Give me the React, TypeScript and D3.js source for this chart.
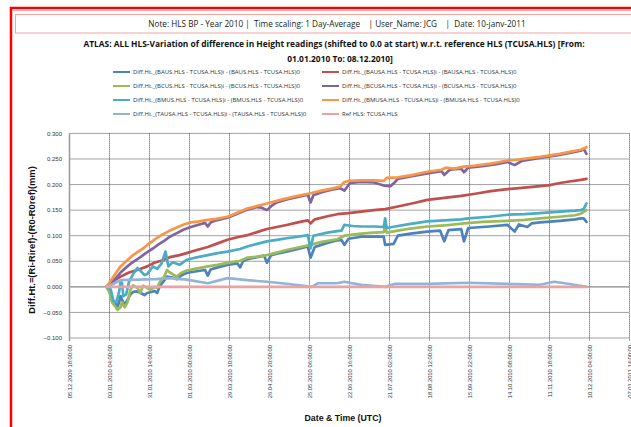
import React from "react";
import * as d3 from "d3";

const NOTE = "Note: HLS BP - Year 2010 |  Time scaling: 1 Day-Average    | User_Name: JCG    |  Date: 10-janv-2011";
const TITLE1 = "ATLAS: ALL HLS-Variation of difference in Height readings (shifted to 0.0 at start) w.r.t. reference HLS (TCUSA.HLS) [From:";
const TITLE2 = "01.01.2010 To: 08.12.2010]";
const X_TITLE = "Date & Time (UTC)";
const Y_TITLE = "Diff.Ht.=(Ri-Riref)-(R0-R0ref)(mm)";

const xTickLabels = [
  "05.12.2009 18:00:00", "03.01.2010 04:00:00", "31.01.2010 14:00:00", "01.03.2010 00:00:00",
  "29.03.2010 10:00:00", "26.04.2010 20:00:00", "25.05.2010 06:00:00", "22.06.2010 16:00:00",
  "21.07.2010 02:00:00", "18.08.2010 12:00:00", "15.09.2010 22:00:00", "14.10.2010 08:00:00",
  "11.11.2010 18:00:00", "10.12.2010 04:00:00", "07.01.2011 14:00:00",
];
const yTicks = [-0.1, -0.05, 0, 0.05, 0.1, 0.15, 0.2, 0.25, 0.3];

const seriesNames = [
  "Diff.Ht._(BAUS.HLS - TCUSA.HLS)i - (BAUS.HLS - TCUSA.HLS)0",
  "Diff.Ht._(BAUSA.HLS - TCUSA.HLS)i - (BAUSA.HLS - TCUSA.HLS)0",
  "Diff.Ht._(BCUS.HLS - TCUSA.HLS)i - (BCUS.HLS - TCUSA.HLS)0",
  "Diff.Ht._(BCUSA.HLS - TCUSA.HLS)i - (BCUSA.HLS - TCUSA.HLS)0",
  "Diff.Ht._(BMUS.HLS - TCUSA.HLS)i - (BMUS.HLS - TCUSA.HLS)0",
  "Diff.Ht._(BMUSA.HLS - TCUSA.HLS)i - (BMUSA.HLS - TCUSA.HLS)0",
  "Diff.Ht._(TAUSA.HLS - TCUSA.HLS)i - (TAUSA.HLS - TCUSA.HLS)0",
  "Ref HLS: TCUSA.HLS",
];
const seriesColors = ["#4F81BD", "#C0504D", "#9BBB59", "#8064A2", "#4BACC6", "#F79646", "#95B3D7", "#E9A3A3"];

type P = [string, number];

const baus: P[] = [
  ["2010-01-01", 0], ["2010-01-03", -0.008], ["2010-01-05", -0.025], ["2010-01-07", -0.03], ["2010-01-09", -0.038],
  ["2010-01-10", -0.03], ["2010-01-11", -0.018], ["2010-01-12", -0.025], ["2010-01-14", -0.035], ["2010-01-16", -0.025],
  ["2010-01-18", -0.015], ["2010-01-20", -0.01], ["2010-01-23", -0.009], ["2010-01-26", -0.013], ["2010-01-28", -0.016],
  ["2010-01-30", -0.012], ["2010-02-02", -0.01], ["2010-02-04", -0.008], ["2010-02-06", -0.012], ["2010-02-08", 0.002],
  ["2010-02-11", 0.012], ["2010-02-13", 0.02], ["2010-02-17", 0.018], ["2010-02-20", 0.015], ["2010-02-23", 0.022],
  ["2010-02-27", 0.027], ["2010-03-05", 0.03], ["2010-03-12", 0.033], ["2010-03-14", 0.022], ["2010-03-16", 0.034],
  ["2010-03-21", 0.038], ["2010-03-28", 0.043], ["2010-04-04", 0.046], ["2010-04-06", 0.038], ["2010-04-08", 0.05],
  ["2010-04-11", 0.054], ["2010-04-18", 0.058], ["2010-04-23", 0.061], ["2010-04-25", 0.047], ["2010-04-28", 0.062],
  ["2010-05-02", 0.065], ["2010-05-09", 0.069], ["2010-05-17", 0.074], ["2010-05-24", 0.079], ["2010-05-26", 0.057],
  ["2010-05-29", 0.078], ["2010-06-07", 0.086], ["2010-06-14", 0.091], ["2010-06-17", 0.092], ["2010-06-19", 0.082],
  ["2010-06-22", 0.094], ["2010-07-01", 0.098], ["2010-07-10", 0.098], ["2010-07-17", 0.098], ["2010-07-18", 0.082],
  ["2010-07-24", 0.084], ["2010-07-27", 0.1], ["2010-08-05", 0.104], ["2010-08-17", 0.108], ["2010-08-26", 0.11],
  ["2010-08-29", 0.089], ["2010-09-01", 0.111], ["2010-09-10", 0.113], ["2010-09-12", 0.089], ["2010-09-15", 0.115],
  ["2010-09-30", 0.118], ["2010-10-13", 0.121], ["2010-10-18", 0.108], ["2010-10-21", 0.122], ["2010-10-27", 0.117],
  ["2010-10-30", 0.124], ["2010-11-05", 0.126], ["2010-11-19", 0.129], ["2010-11-30", 0.132], ["2010-12-04", 0.134],
  ["2010-12-06", 0.134], ["2010-12-08", 0.127],
];

const bausa: P[] = [
  ["2010-01-01", 0], ["2010-01-05", 0.01], ["2010-01-11", 0.02], ["2010-01-17", 0.028], ["2010-01-23", 0.033],
  ["2010-01-30", 0.04], ["2010-02-04", 0.047], ["2010-02-10", 0.052], ["2010-02-15", 0.058], ["2010-02-22", 0.062],
  ["2010-02-27", 0.066], ["2010-03-05", 0.071], ["2010-03-14", 0.078], ["2010-03-21", 0.085], ["2010-03-28", 0.092],
  ["2010-04-04", 0.097], ["2010-04-11", 0.101], ["2010-04-18", 0.107], ["2010-04-25", 0.113], ["2010-05-02", 0.117],
  ["2010-05-09", 0.121], ["2010-05-17", 0.126], ["2010-05-24", 0.13], ["2010-05-26", 0.124], ["2010-05-29", 0.132],
  ["2010-06-07", 0.138], ["2010-06-14", 0.142], ["2010-06-22", 0.144], ["2010-07-01", 0.147], ["2010-07-10", 0.15],
  ["2010-07-18", 0.152], ["2010-07-27", 0.157], ["2010-08-06", 0.163], ["2010-08-17", 0.17], ["2010-08-29", 0.174],
  ["2010-09-10", 0.178], ["2010-09-20", 0.182], ["2010-10-01", 0.187], ["2010-10-13", 0.191], ["2010-10-25", 0.194],
  ["2010-11-05", 0.197], ["2010-11-12", 0.199], ["2010-11-19", 0.203], ["2010-11-26", 0.206], ["2010-12-04", 0.209],
  ["2010-12-08", 0.211],
];

const bcus: P[] = [
  ["2010-01-01", 0], ["2010-01-03", -0.01], ["2010-01-05", -0.03], ["2010-01-07", -0.038], ["2010-01-09", -0.045],
  ["2010-01-11", -0.04], ["2010-01-12", -0.03], ["2010-01-14", -0.04], ["2010-01-16", -0.03], ["2010-01-18", -0.006],
  ["2010-01-20", 0.003], ["2010-01-23", -0.002], ["2010-01-25", -0.012], ["2010-01-27", 0.002], ["2010-01-30", -0.002],
  ["2010-02-01", -0.006], ["2010-02-04", 0], ["2010-02-06", -0.002], ["2010-02-08", 0.01], ["2010-02-11", 0.02],
  ["2010-02-13", 0.033], ["2010-02-15", 0.028], ["2010-02-20", 0.02], ["2010-02-23", 0.027], ["2010-02-27", 0.032],
  ["2010-03-05", 0.035], ["2010-03-14", 0.04], ["2010-03-21", 0.043], ["2010-03-28", 0.047], ["2010-04-06", 0.051],
  ["2010-04-11", 0.057], ["2010-04-18", 0.059], ["2010-04-25", 0.062], ["2010-05-02", 0.067], ["2010-05-09", 0.072],
  ["2010-05-17", 0.077], ["2010-05-26", 0.082], ["2010-06-03", 0.088], ["2010-06-14", 0.093], ["2010-06-19", 0.1],
  ["2010-06-25", 0.102], ["2010-07-01", 0.104], ["2010-07-10", 0.106], ["2010-07-17", 0.107], ["2010-07-18", 0.122],
  ["2010-07-19", 0.106], ["2010-07-27", 0.11], ["2010-08-05", 0.114], ["2010-08-17", 0.118], ["2010-08-29", 0.12],
  ["2010-09-12", 0.124], ["2010-09-25", 0.127], ["2010-10-13", 0.129], ["2010-10-25", 0.131], ["2010-11-05", 0.134],
  ["2010-11-19", 0.137], ["2010-11-30", 0.14], ["2010-12-04", 0.143], ["2010-12-08", 0.15],
];

const bcusa: P[] = [
  ["2010-01-01", 0], ["2010-01-04", 0.008], ["2010-01-08", 0.018], ["2010-01-11", 0.028], ["2010-01-15", 0.038],
  ["2010-01-19", 0.047], ["2010-01-23", 0.054], ["2010-01-27", 0.062], ["2010-01-30", 0.068], ["2010-02-03", 0.075],
  ["2010-02-07", 0.083], ["2010-02-11", 0.09], ["2010-02-15", 0.098], ["2010-02-20", 0.105], ["2010-02-25", 0.112],
  ["2010-03-02", 0.117], ["2010-03-08", 0.122], ["2010-03-12", 0.125], ["2010-03-14", 0.118], ["2010-03-16", 0.126],
  ["2010-03-20", 0.13], ["2010-03-28", 0.135], ["2010-04-04", 0.143], ["2010-04-11", 0.151], ["2010-04-18", 0.156],
  ["2010-04-21", 0.155], ["2010-04-25", 0.15], ["2010-04-29", 0.16], ["2010-05-02", 0.165], ["2010-05-09", 0.171],
  ["2010-05-17", 0.176], ["2010-05-24", 0.18], ["2010-05-26", 0.165], ["2010-05-28", 0.179], ["2010-06-03", 0.185],
  ["2010-06-10", 0.19], ["2010-06-16", 0.193], ["2010-06-19", 0.188], ["2010-06-23", 0.203], ["2010-07-01", 0.205],
  ["2010-07-10", 0.204], ["2010-07-17", 0.198], ["2010-07-22", 0.197], ["2010-07-25", 0.205], ["2010-07-27", 0.211],
  ["2010-08-05", 0.216], ["2010-08-17", 0.222], ["2010-08-27", 0.226], ["2010-08-29", 0.219], ["2010-09-02", 0.229],
  ["2010-09-10", 0.231], ["2010-09-12", 0.224], ["2010-09-15", 0.233], ["2010-09-25", 0.236], ["2010-10-05", 0.24],
  ["2010-10-13", 0.244], ["2010-10-18", 0.238], ["2010-10-23", 0.246], ["2010-11-05", 0.252], ["2010-11-12", 0.255],
  ["2010-11-19", 0.258], ["2010-11-26", 0.262], ["2010-12-04", 0.266], ["2010-12-06", 0.27], ["2010-12-08", 0.26],
];

const bmus: P[] = [
  ["2010-01-01", 0], ["2010-01-04", -0.005], ["2010-01-06", -0.028], ["2010-01-08", -0.03], ["2010-01-10", -0.01],
  ["2010-01-11", 0.01], ["2010-01-12", 0.008], ["2010-01-13", -0.018], ["2010-01-15", -0.015], ["2010-01-17", 0.01],
  ["2010-01-20", 0.025], ["2010-01-23", 0.037], ["2010-01-25", 0.032], ["2010-01-28", 0.023], ["2010-01-30", 0.025],
  ["2010-02-03", 0.04], ["2010-02-06", 0.035], ["2010-02-09", 0.045], ["2010-02-12", 0.069], ["2010-02-14", 0.04],
  ["2010-02-17", 0.048], ["2010-02-22", 0.043], ["2010-02-27", 0.053], ["2010-03-05", 0.057], ["2010-03-14", 0.062],
  ["2010-03-21", 0.066], ["2010-03-28", 0.069], ["2010-04-06", 0.074], ["2010-04-11", 0.079], ["2010-04-18", 0.084],
  ["2010-04-25", 0.089], ["2010-05-02", 0.092], ["2010-05-09", 0.095], ["2010-05-17", 0.098], ["2010-05-24", 0.101],
  ["2010-05-26", 0.075], ["2010-05-28", 0.1], ["2010-06-07", 0.106], ["2010-06-14", 0.109], ["2010-06-17", 0.11],
  ["2010-06-19", 0.121], ["2010-06-25", 0.119], ["2010-07-01", 0.118], ["2010-07-10", 0.118], ["2010-07-17", 0.117],
  ["2010-07-18", 0.134], ["2010-07-19", 0.115], ["2010-07-27", 0.119], ["2010-08-05", 0.123], ["2010-08-17", 0.128],
  ["2010-08-29", 0.13], ["2010-09-10", 0.132], ["2010-09-15", 0.134], ["2010-09-30", 0.137], ["2010-10-13", 0.141],
  ["2010-10-25", 0.142], ["2010-11-05", 0.144], ["2010-11-19", 0.147], ["2010-11-30", 0.149], ["2010-12-04", 0.15],
  ["2010-12-06", 0.152], ["2010-12-08", 0.163],
];

const bmusa: P[] = [
  ["2010-01-01", 0], ["2010-01-04", 0.012], ["2010-01-08", 0.028], ["2010-01-11", 0.04], ["2010-01-15", 0.05],
  ["2010-01-19", 0.06], ["2010-01-23", 0.068], ["2010-01-27", 0.075], ["2010-01-30", 0.082], ["2010-02-03", 0.09],
  ["2010-02-07", 0.098], ["2010-02-11", 0.104], ["2010-02-15", 0.11], ["2010-02-20", 0.116], ["2010-02-25", 0.122],
  ["2010-03-02", 0.126], ["2010-03-08", 0.128], ["2010-03-14", 0.131], ["2010-03-20", 0.133], ["2010-03-28", 0.137],
  ["2010-04-04", 0.145], ["2010-04-11", 0.153], ["2010-04-18", 0.158], ["2010-04-25", 0.163], ["2010-05-02", 0.168],
  ["2010-05-09", 0.173], ["2010-05-17", 0.178], ["2010-05-26", 0.183], ["2010-06-03", 0.188], ["2010-06-10", 0.192],
  ["2010-06-16", 0.196], ["2010-06-19", 0.205], ["2010-06-22", 0.207], ["2010-07-01", 0.208], ["2010-07-10", 0.208],
  ["2010-07-17", 0.207], ["2010-07-19", 0.213], ["2010-07-27", 0.214], ["2010-08-05", 0.218], ["2010-08-17", 0.225],
  ["2010-08-27", 0.229], ["2010-08-30", 0.233], ["2010-09-05", 0.231], ["2010-09-12", 0.235], ["2010-09-20", 0.237],
  ["2010-10-01", 0.241], ["2010-10-13", 0.247], ["2010-10-18", 0.248], ["2010-10-27", 0.251], ["2010-11-05", 0.254],
  ["2010-11-12", 0.257], ["2010-11-19", 0.26], ["2010-11-26", 0.264], ["2010-12-04", 0.268], ["2010-12-08", 0.273],
];

const tausa: P[] = [
  ["2010-01-01", 0], ["2010-01-06", 0.006], ["2010-01-11", 0.013], ["2010-01-23", 0.014], ["2010-02-05", 0.015],
  ["2010-02-15", 0.017], ["2010-02-27", 0.014], ["2010-03-14", 0.007], ["2010-03-28", 0.017], ["2010-04-11", 0.013],
  ["2010-04-25", 0.01], ["2010-05-09", 0.006], ["2010-05-24", 0.001], ["2010-05-27", 0], ["2010-05-31", 0.007],
  ["2010-06-14", 0.007], ["2010-06-19", 0.01], ["2010-07-01", 0.004], ["2010-07-18", 0], ["2010-07-25", 0.006],
  ["2010-08-17", 0.006], ["2010-09-15", 0.008], ["2010-10-13", 0.006], ["2010-11-05", 0.004], ["2010-11-15", 0.01],
  ["2010-11-25", 0.006], ["2010-12-08", 0],
];

const refHls: P[] = [["2010-01-01", 0], ["2010-12-08", 0]];

const allSeries = [baus, bausa, bcus, bcusa, bmus, bmusa, tausa, refHls];

const W = 631;
const H = 427;
const plotLeft = 69.5;
const plotRight = 629.5;
const plotTop = 133.4;
const plotBottom = 338;

const parseTick = d3.utcParse("%d.%m.%Y %H:%M:%S");
const parseDay = d3.utcParse("%Y-%m-%d");
const tickDates = xTickLabels.map((s) => parseTick(s) as Date);

const x = d3.scaleUtc().domain([tickDates[0], tickDates[tickDates.length - 1]]).range([plotLeft, plotRight]);
const y = d3.scaleLinear().domain([-0.1, 0.3]).range([plotBottom, plotTop]);

const line = d3
  .line<P>()
  .x((d) => x(parseDay(d[0]) as Date))
  .y((d) => y(d[1]))
  .curve(d3.curveLinear);

const FONT = "'Liberation Sans', Arial, sans-serif";
const TFONT = "'Open Sans', 'Liberation Sans', sans-serif";

export default function App() {
  const legendRows = [72, 86, 100, 114];
  const legendCols = [113, 322];
  return (
    <svg
      width={W}
      height={H}
      viewBox={`0 0 ${W} ${H}`}
      style={{ position: "fixed", left: 0, top: 0, background: "#fff" }}
    >
      <rect x={0} y={0} width={W} height={H} fill="#fff" />
      {/* outer red frame */}
      <rect x={11} y={8} width={700} height={500} fill="none" stroke="#FF0000" strokeWidth={2.5} />
      <line x1={12} x2={W} y1={10.5} y2={10.5} stroke="#FFB3B3" strokeWidth={1} />
      {/* note box */}
      <rect x={15.5} y={14.5} width={700} height={18.5} fill="none" stroke="#F5A3A3" strokeWidth={1} />
      <text x={337} y={27} textAnchor="middle" fontFamily={TFONT} fontSize={8.2} fill="#222" style={{ whiteSpace: "pre" }}>
        {NOTE}
      </text>
      {/* title */}
      <text x={334} y={47} textAnchor="middle" fontFamily={TFONT} fontWeight="bold" fontSize={8.4} fill="#111">
        {TITLE1}
      </text>
      <text x={340} y={62} textAnchor="middle" fontFamily={TFONT} fontWeight="bold" fontSize={8.4} fill="#111">
        {TITLE2}
      </text>

      {/* legend */}
      {seriesNames.map((name, i) => {
        const cx = legendCols[i % 2];
        const cy = legendRows[Math.floor(i / 2)];
        return (
          <g key={name}>
            <line x1={cx} x2={cx + 17} y1={cy} y2={cy} stroke={seriesColors[i]} strokeWidth={2} />
            <text x={cx + 20} y={cy + 2.2} fontFamily={TFONT} fontSize={6} fill="#333">
              {name}
            </text>
          </g>
        );
      })}

      {/* horizontal gridlines */}
      {yTicks.map((t) => (
        <g key={`h${t}`}>
          <line
            x1={plotLeft}
            x2={plotRight}
            y1={y(t)}
            y2={y(t)}
            stroke="#333"
            strokeWidth={0.9}
            strokeDasharray="1,1"
          />
          <text x={62} y={y(t) + 2.2} textAnchor="end" fontFamily={FONT} fontSize={6} fill="#333">
            {d3.format(".3f")(t)}
          </text>
        </g>
      ))}
      {/* vertical gridlines + labels */}
      {tickDates.map((d, i) => (
        <g key={`v${i}`}>
          {i > 0 && (
            <line
              x1={x(d)}
              x2={x(d)}
              y1={plotTop}
              y2={plotBottom + 3}
              stroke="#333"
              strokeWidth={0.9}
              strokeDasharray="1,1"
            />
          )}
          <text
            transform={`translate(${x(d) + 2},${plotBottom + 7}) rotate(-90)`}
            textAnchor="end"
            fontFamily={FONT}
            fontSize={5.8}
            fill="#333"
          >
            {xTickLabels[i]}
          </text>
        </g>
      ))}
      {/* axes */}
      <line x1={plotLeft} x2={plotLeft} y1={plotTop} y2={plotBottom + 3} stroke="#999" strokeWidth={1.5} />
      <line x1={plotLeft} x2={plotRight} y1={y(0)} y2={y(0)} stroke="#A6A6A6" strokeWidth={1.5} />

      {/* series */}
      {allSeries.map((s, i) => (
        <path
          key={`s${i}`}
          d={line(s) || ""}
          fill="none"
          stroke={seriesColors[i]}
          strokeWidth={2.7}
          strokeLinejoin="round"
          strokeLinecap="round"
        />
      ))}

      {/* axis titles */}
      <text x={343} y={421} textAnchor="middle" fontFamily={FONT} fontWeight="bold" fontSize={8.8} fill="#111">
        {X_TITLE}
      </text>
      <text
        transform={`translate(35,240) rotate(-90)`}
        textAnchor="middle"
        fontFamily={FONT}
        fontWeight="bold"
        fontSize={9.4}
        fill="#111"
      >
        {Y_TITLE}
      </text>
    </svg>
  );
}
